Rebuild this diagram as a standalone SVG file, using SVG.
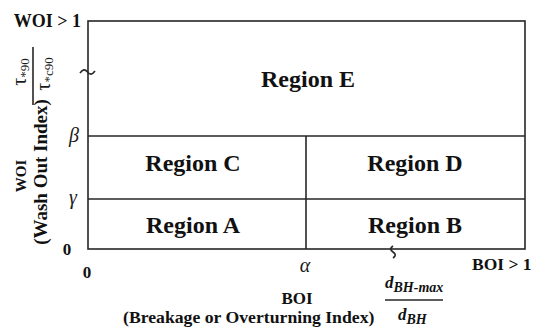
<svg xmlns="http://www.w3.org/2000/svg" width="536" height="329" viewBox="0 0 536 329">
<style>
.ln{stroke:#262626;stroke-width:1.6;fill:none}
.t{font-family:"Liberation Serif","Times New Roman",serif;font-weight:bold;fill:#111}
.reg{font-size:24px;text-anchor:middle}
.gk{font-family:"Liberation Serif","Times New Roman",serif;font-style:italic;font-size:20px;fill:#1a1a1a;text-anchor:middle}
.tau{font-family:"Liberation Serif","Times New Roman",serif;font-size:20px;fill:#1a1a1a;text-anchor:middle}
.dd{font-family:"Liberation Serif","Times New Roman",serif;font-style:italic;font-weight:bold;fill:#111}
</style>
<rect x="0" y="0" width="536" height="329" fill="#fff"/>
<g id="connectors">
  <rect class="ln" x="88" y="21" width="437" height="228"/>
  <line class="ln" x1="88" y1="136" x2="525" y2="136"/>
  <line class="ln" x1="88" y1="199" x2="525" y2="199"/>
  <line class="ln" x1="306" y1="136" x2="306" y2="249"/>
  <path class="ln" d="M80,73 c3,-4 5,-4 7.5,-1 s4.5,3 7.5,-1" stroke-width="1.3"/>
  <path class="ln" d="M393,246 c-3,2 -3,4 0,6 s3,4 0,6" stroke-width="1.3"/>
</g>
<g id="regionE"><text class="t reg" x="308" y="87">Region E</text></g>
<g id="regionC"><text class="t reg" x="193" y="171">Region C</text></g>
<g id="regionD"><text class="t reg" x="415" y="171">Region D</text></g>
<g id="regionA"><text class="t reg" x="193" y="233">Region A</text></g>
<g id="regionB"><text class="t reg" x="415" y="233">Region B</text></g>
<g id="axis-y">
  <text class="t" x="81" y="27" font-size="18" text-anchor="end">WOI &gt; 1</text>
  <text class="gk" x="74" y="142">β</text>
  <text class="gk" x="73" y="204">γ</text>
  <text class="t" x="67" y="255" font-size="17" text-anchor="middle">0</text>
  <text class="t" font-size="15" text-anchor="middle" transform="translate(26,176) rotate(-90)">WOI</text>
  <text class="t" font-size="19" text-anchor="middle" transform="translate(47,172) rotate(-90)">(Wash Out Index)</text>
  <text class="tau" transform="translate(26,72) rotate(-90)">τ<tspan font-size="13" dy="3">*90</tspan></text>
  <line class="ln" x1="33" y1="47" x2="33" y2="105" stroke-width="1.3"/>
  <text class="tau" transform="translate(50,74) rotate(-90)">τ<tspan font-size="13" dy="3">*c90</tspan></text>
</g>
<g id="axis-x">
  <text class="t" x="87" y="278" font-size="17" text-anchor="middle">0</text>
  <text class="gk" x="305" y="272">α</text>
  <text class="t" x="472" y="270" font-size="17.5">BOI &gt; 1</text>
  <text class="t" x="297" y="304" font-size="17" text-anchor="middle">BOI</text>
  <text class="t" x="123" y="323" font-size="17.7">(Breakage or Overturning Index)</text>
  <text class="dd" x="385" y="288" font-size="17">d<tspan font-size="14" dy="4">BH-max</tspan></text>
  <line class="ln" x1="385" y1="300" x2="443" y2="300" stroke-width="1.3"/>
  <text class="dd" x="398" y="320" font-size="17">d<tspan font-size="14" dy="4">BH</tspan></text>
</g>
</svg>
